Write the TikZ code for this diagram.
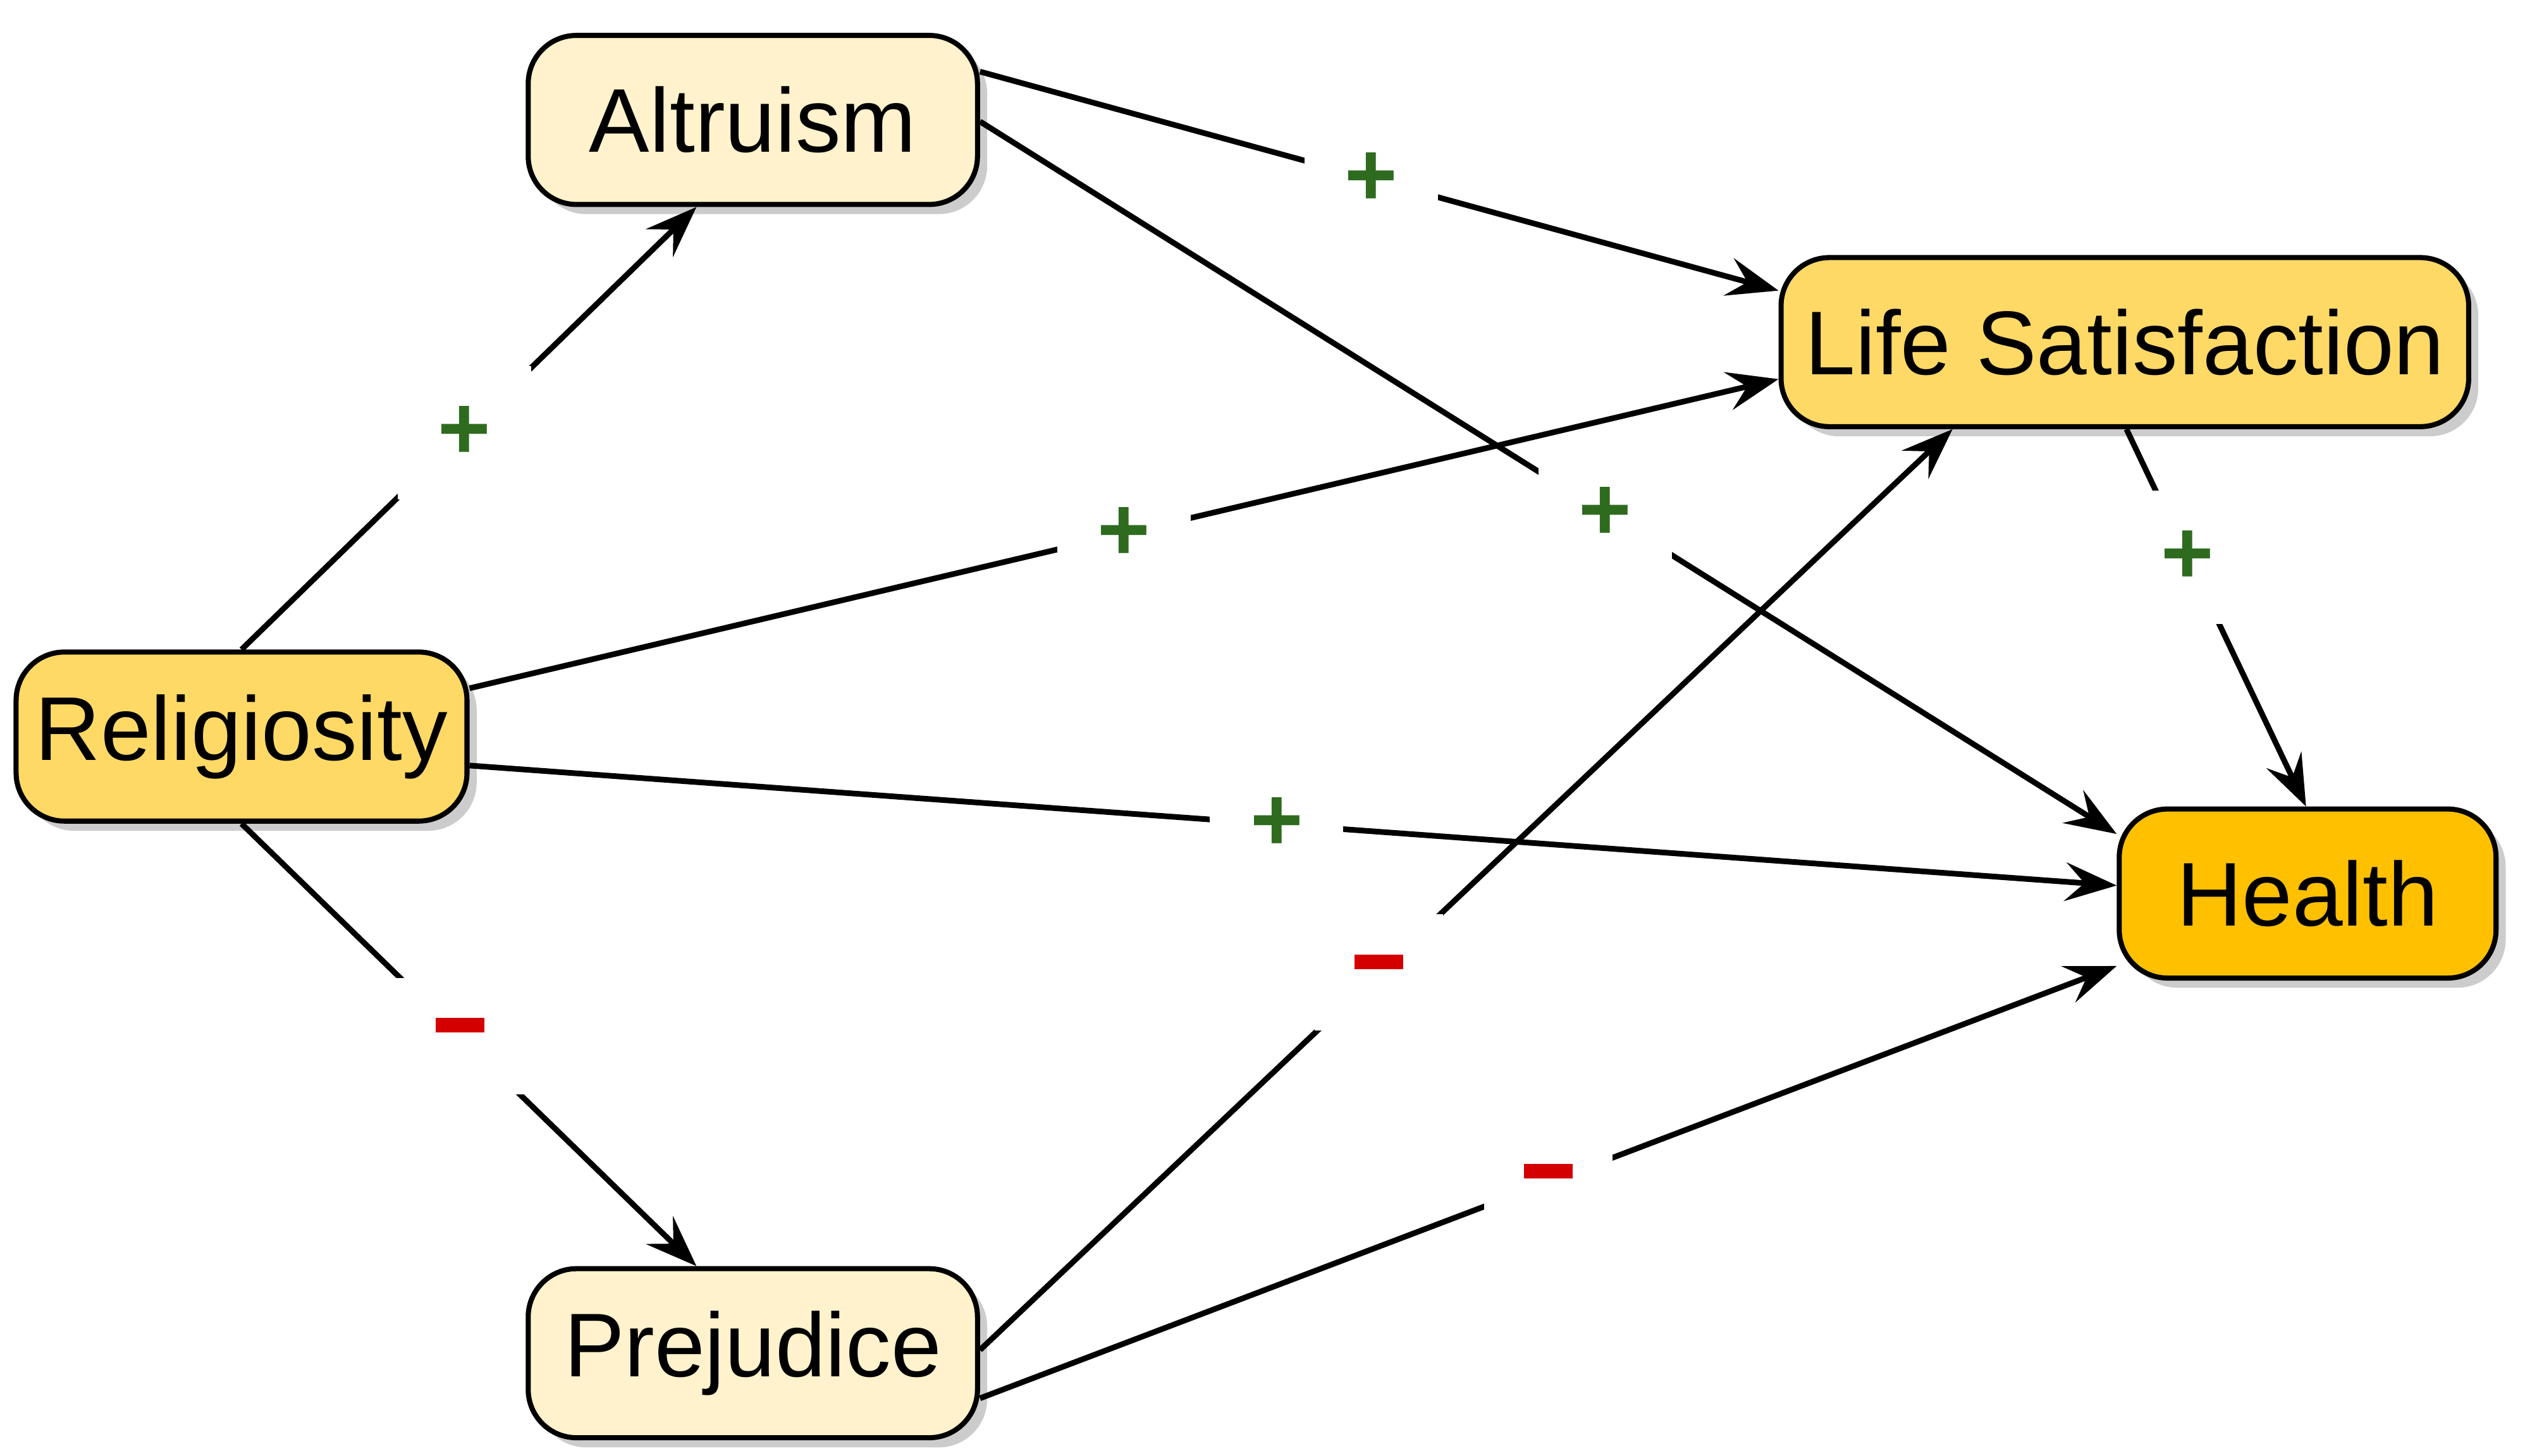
\documentclass[tikz,border=0pt]{standalone}
\usepackage{fontspec}
\setmainfont{Liberation Sans}
\usetikzlibrary{arrows.meta,shadows,positioning}
\definecolor{lightbox}{HTML}{FFF2CC}
\definecolor{midbox}{HTML}{FFD966}
\definecolor{darkbox}{HTML}{FFC000}
\definecolor{posgreen}{HTML}{2E6B1F}
\definecolor{negred}{HTML}{D40000}
\tikzset{var node/.style={rectangle,rounded corners=3mm,draw=black,line width=0.9pt,
            minimum height=1.05cm,font=\fontsize{16}{19}\selectfont,
            drop shadow={shadow xshift=0.6mm,shadow yshift=-0.6mm,fill=black!40}},
         path edge/.style={line width=1pt,-{Stealth[length=3.2mm,width=2.4mm,inset=1.2mm]}},
         pos label/.style={fill=white,inner sep=2.5mm,text=posgreen,font=\fontsize{16}{19}\bfseries\selectfont},
         neg label/.style={fill=white,inner sep=2.5mm,text=negred,font=\fontsize{16}{19}\bfseries\selectfont}
}
\newcommand{\minussign}{\rule[0.45ex]{0.3cm}{0.9mm}}
\begin{document}
\begin{tikzpicture}
\useasboundingbox (0,0) rectangle (15.68,-9.04);
% variables
\node[var node,fill=lightbox,minimum width=2.79cm] (alt) at (4.675,-0.745) {Altruism};
\node[var node,fill=midbox,minimum width=4.27cm] (life) at (13.195,-2.125) {Life Satisfaction};
\node[var node,fill=midbox,minimum width=2.8cm] (rel) at (1.5,-4.575) {Religiosity};
\node[var node,fill=darkbox,minimum width=2.34cm] (health) at (14.33,-5.55) {Health};
\node[var node,fill=lightbox,minimum width=2.79cm] (prej) at (4.675,-8.405) {Prejudice};
% paths
\draw[path edge] (rel.north) -- ([xshift=-0.35cm]alt.south) node[pos=0.49,pos label] {+};
\draw[path edge] ([yshift=0.3cm]rel.east) -- ([yshift=-0.23cm]life.west) node[pos=0.5,pos label] {+};
\draw[path edge] ([yshift=-0.18cm]rel.east) -- ([yshift=0.05cm]health.west) node[pos=0.49,pos label] {+};
\draw[path edge] (rel.south) -- ([xshift=-0.35cm]prej.north) node[pos=0.48,neg label] {\minussign};
\draw[path edge] ([yshift=0.3cm]alt.east) -- ([yshift=0.32cm]life.west) node[pos=0.49,pos label] {+};
\draw[path edge] ([yshift=-0.01cm]alt.east) -- ([yshift=0.37cm]health.west) node[pos=0.55,pos label] {+};
\draw[path edge] ([xshift=0.01cm]life.south) -- ([xshift=-0.01cm]health.north) node[pos=0.34,pos label] {+};
\draw[path edge] ([yshift=0.02cm]prej.east) -- ([xshift=-1.07cm]life.south) node[pos=0.41,neg label] {\minussign};
\draw[path edge] ([yshift=-0.28cm]prej.east) -- ([yshift=-0.45cm]health.west) node[pos=0.5,neg label] {\minussign};
\end{tikzpicture}
\end{document}
